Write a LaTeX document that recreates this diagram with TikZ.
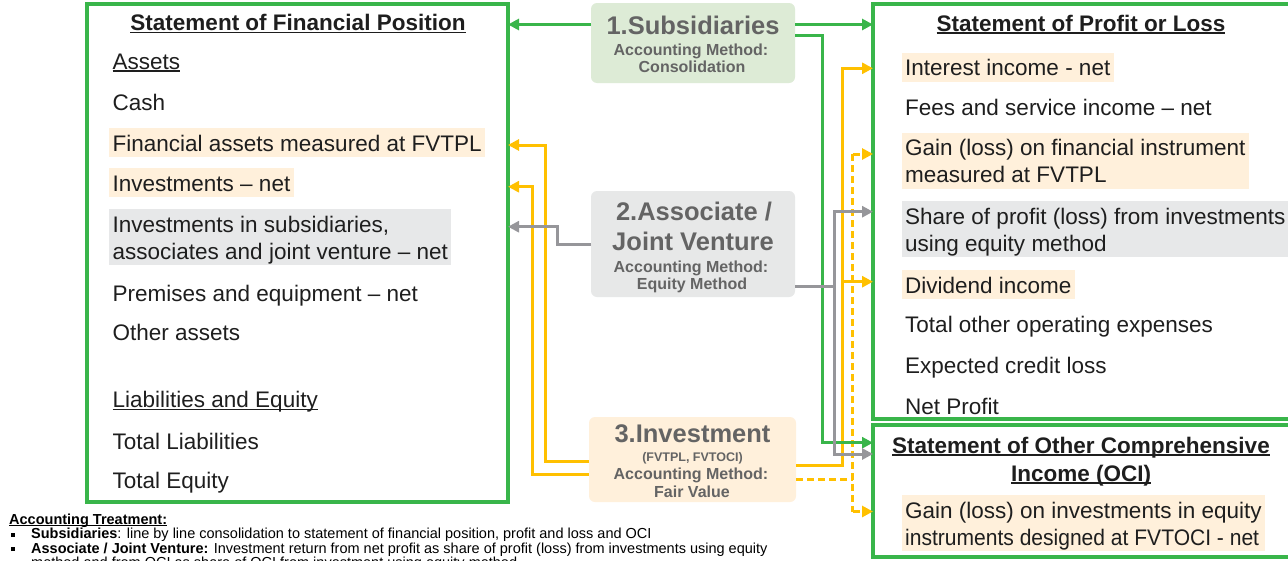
\documentclass[tikz,border=0pt]{standalone}
\usepackage{fontspec}
\usepackage{graphicx}
\setmainfont{Liberation Sans}
\usetikzlibrary{arrows.meta}

\definecolor{boxgreen}{RGB}{57,181,74}
\definecolor{linkgold}{RGB}{255,192,0}
\definecolor{linkgrey}{RGB}{150,150,154}
\definecolor{subfill}{RGB}{221,235,214}
\definecolor{ascfill}{RGB}{231,232,232}
\definecolor{invfill}{RGB}{255,240,219}
\definecolor{hlpeach}{RGB}{255,240,219}
\definecolor{hlgrey}{RGB}{231,232,233}
\definecolor{ink}{RGB}{30,30,30}
\definecolor{midtext}{RGB}{100,100,100}

% underline that sits just below the baseline, crossing descenders
\newsavebox\ulbox
\newcommand\ulin[1]{\sbox\ulbox{#1}\rlap{\rule[-2.6pt]{\wd\ulbox}{1.6pt}}\usebox\ulbox}
\newcommand\thinul[1]{\sbox\ulbox{#1}\rlap{\rule[-2pt]{\wd\ulbox}{1pt}}\usebox\ulbox}
% strut for one statement line: 22pt above, 5pt below the baseline
\newcommand\istrut{\rule[-5pt]{0pt}{27pt}}
\newcommand\sqbullet{\makebox[22pt][l]{\hspace{2pt}\rule[2pt]{4pt}{4pt}}}

\begin{document}
\begin{tikzpicture}[x=1pt,y=-1pt,
  statebox/.style={draw=boxgreen,line width=3.5pt,outer sep=0pt,inner sep=0pt,anchor=north west},
  method/.style={rounded corners=6pt,outer sep=0pt,inner sep=0pt,anchor=north west},
  entry/.style={anchor=north west,inner xsep=3.5pt,inner ysep=1pt,align=left,text=ink,
    font=\fontsize{22.5}{27}\selectfont},
  peach/.style={entry,fill=hlpeach},
  shade/.style={entry,fill=hlgrey},
  heading/.style={anchor=base,inner sep=0pt,text=ink,font=\bfseries\fontsize{22.5}{27}\selectfont},
  bigname/.style={anchor=base,inner sep=0pt,text=midtext,font=\bfseries\fontsize{25.5}{30}\selectfont},
  subname/.style={anchor=base,inner sep=0pt,text=midtext,font=\bfseries\fontsize{16}{17}\selectfont},
  tinyname/.style={anchor=base,inner sep=0pt,text=midtext,font=\bfseries\fontsize{12.5}{14}\selectfont},
  note/.style={anchor=base west,inner sep=0pt,text=black,font=\fontsize{14.5}{14.5}\selectfont},
  link/.style={line width=3pt},
  tip/.style={-{Triangle[length=11pt,width=11pt]}},
  gconn/.style={link,draw=boxgreen},
  yconn/.style={link,draw=linkgold},
  kconn/.style={link,draw=linkgrey},
  ydash/.style={yconn,dash pattern=on 7pt off 4pt}]

\useasboundingbox (0,0) rectangle (1288,560);
\fill[white] (0,0) rectangle (1288,560);
\clip (0,0) rectangle (1288,560);

% ---- statement frames
\node[statebox,minimum width=421pt,minimum height=498pt] (sfp) at (87,4) {};
\node[statebox,minimum width=419pt,minimum height=415pt] (spl) at (873,4) {};
\node[statebox,minimum width=419pt,minimum height=132pt] (oci) at (873,425) {};

% ---- statement of financial position
\node[heading] (sfpT) at (298,30.5) {\ulin{Statement of Financial Position}};
\node[entry] (aAssets) at (109,46) {\istrut\ulin{Assets}};
\node[entry] (aCash) at (109,87) {\istrut Cash};
\node[peach] (aFA) at (109,128) {\istrut Financial assets measured at FVTPL};
\node[peach] (aInv) at (109,168) {\istrut Investments – net};
\node[shade] (aSub) at (109,209) {\istrut Investments in subsidiaries,\\\istrut associates and joint venture – net};
\node[entry] (aPrem) at (109,278.7) {\istrut Premises and equipment – net};
\node[entry] (aOther) at (109,317.7) {\istrut Other assets};
\node[entry] (aLiab) at (109,384.3) {\istrut\ulin{Liabilities and Equity}};
\node[entry] (aTL) at (109,426) {\istrut Total Liabilities};
\node[entry] (aTE) at (109,465.3) {\istrut Total Equity};

% ---- statement of profit or loss
\node[heading] (splT) at (1081,31) {\ulin{Statement of Profit or Loss}};
\node[peach] (pInt) at (901.5,52.5) {\istrut Interest income - net};
\node[entry] (pFee) at (901.5,92) {\istrut Fees and service income – net};
\node[peach] (pGain) at (901.5,132.5) {\istrut Gain (loss) on financial instrument\\\istrut measured at FVTPL};
\node[shade] (pShare) at (901.5,201) {\istrut Share of profit (loss) from investments\hspace{-3pt}\\\istrut using equity method};
\node[peach] (pDiv) at (901.5,270) {\istrut Dividend income};
\node[entry] (pOpex) at (901.5,309.7) {\istrut Total other operating expenses};
\node[entry] (pECL) at (901.5,350.3) {\istrut Expected credit loss};
\node[entry] (pNet) at (901.5,391) {\istrut Net Profit};

% ---- statement of other comprehensive income
\node[heading] (ociT1) at (1081,453) {\ulin{Statement of Other Comprehensive}};
\node[heading] (ociT2) at (1081,481) {\ulin{Income (OCI)}};
\node[peach] (oGain) at (901.5,495) {\istrut Gain (loss) on investments in equity\\\istrut \scalebox{0.935}[1]{instruments designed at FVTOCI - net}};

% ---- accounting methods
\node[method,fill=subfill,minimum width=204pt,minimum height=80pt] (sub) at (591,3) {};
\node[bigname] (subA) at (693,34) {1.Subsidiaries};
\node[subname] (subB) at (691,55.5) {Accounting Method:};
\node[subname] (subC) at (692,72.5) {Consolidation};

\node[method,fill=ascfill,minimum width=204pt,minimum height=106pt] (asc) at (591,191) {};
\node[bigname] (ascA) at (694,220) {2.Associate /};
\node[bigname] (ascB) at (693,250) {Joint Venture};
\node[subname] (ascC) at (691,272.7) {Accounting Method:};
\node[subname] (ascD) at (692,289.7) {Equity Method};

\node[method,fill=invfill,minimum width=207pt,minimum height=85pt] (inv) at (589,417) {};
\node[bigname] (invA) at (692.5,442) {3.Investment};
\node[tinyname] (invB) at (692.5,461) {(FVTPL, FVTOCI)};
\node[subname] (invC) at (691,479.7) {Accounting Method:};
\node[subname] (invD) at (692,497.4) {Fair Value};

% ---- routing levels and lanes
\coordinate (ySubA) at (0,24.5);
\coordinate (ySubB) at (0,35);
\coordinate (yFA) at (0,145);
\coordinate (yINV) at (0,186.7);
\coordinate (yASUB) at (0,226.7);
\coordinate (yINT) at (0,68.3);
\coordinate (yGAIN) at (0,154);
\coordinate (ySHARE) at (0,211.7);
\coordinate (yDIV) at (0,281.7);
\coordinate (yOCIg) at (0,442.7);
\coordinate (yOCIk) at (0,454);
\coordinate (yOCId) at (0,511.5);
\coordinate (yInvA) at (0,461);
\coordinate (yInvB) at (0,474);
\coordinate (yInvC) at (0,465);
\coordinate (yInvD) at (0,479.3);
\coordinate (yAscR) at (0,286);
\coordinate (laneFA) at (545,0);
\coordinate (laneINV) at (532.3,0);
\coordinate (laneASUB) at (557.7,0);
\coordinate (laneG) at (822,0);
\coordinate (laneK) at (834,0);
\coordinate (laneY) at (842.3,0);
\coordinate (laneD) at (852.7,0);

% ---- investment (fair value) links
\draw[yconn,tip] (inv.west |- yInvA) -| (laneFA |- yFA) -- (sfp.east |- yFA);
\draw[yconn,tip] (inv.west |- yInvB) -| (laneINV |- yINV) -- (sfp.east |- yINV);
\draw[yconn,tip] (inv.east |- yInvC) -| (laneY |- yINT) -- (spl.west |- yINT);
\draw[yconn,tip] (laneY |- yDIV) -- (spl.west |- yDIV);
\draw[ydash] (inv.east |- yInvD) -- (laneD |- yInvD);
\draw[ydash] (laneD |- yGAIN) -- (laneD |- yOCId);
\draw[ydash,tip] (laneD |- yGAIN) -- (spl.west |- yGAIN);
\draw[ydash,tip] (laneD |- yOCId) -- (oci.west |- yOCId);

% ---- subsidiaries (consolidation) links
\draw[gconn,tip] (sub.west |- ySubA) -- (sfp.east |- ySubA);
\draw[gconn,tip] (sub.east |- ySubA) -- (spl.west |- ySubA);
\draw[gconn,tip] (sub.east |- ySubB) -| (laneG |- yOCIg) -- (oci.west |- yOCIg);

% ---- associate / joint venture (equity method) links
\draw[kconn,tip] (asc.west) -| (laneASUB |- yASUB) -- (sfp.east |- yASUB);
\draw[kconn,tip] (asc.east |- yAscR) -| (laneK |- ySHARE) -- (spl.west |- ySHARE);
\draw[kconn,tip] (laneK |- yAscR) |- (oci.west |- yOCIk);

% ---- notes
\node[note] (nHead) at (9,524) {\thinul{\textbf{Accounting Treatment:}}};
\node[note] (nSub) at (9,538.5) {\sqbullet\textbf{Subsidiaries}: line by line consolidation to statement of financial position, profit and loss and OCI};
\node[note] (nAsc) at (9,553) {\sqbullet\textbf{Associate / Joint Venture:} Investment return from net profit as share of profit (loss) from investments using equity};
\node[note] (nAsc2) at (31,567.5) {method and from OCI as share of OCI from investment using equity method};
\end{tikzpicture}
\end{document}
